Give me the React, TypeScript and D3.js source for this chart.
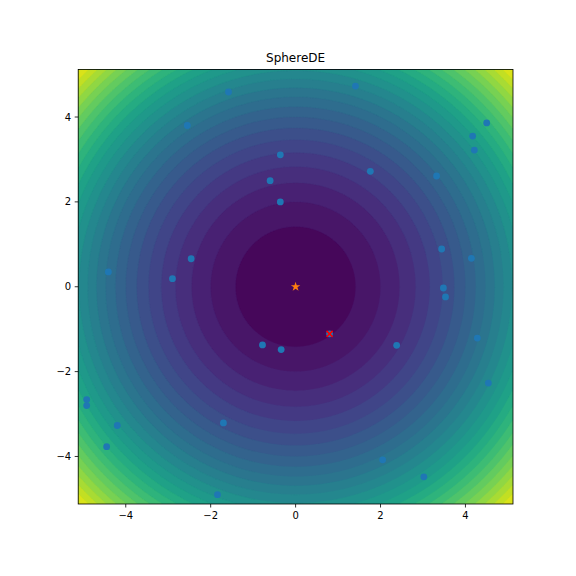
import React from 'react';
import * as d3 from 'd3';

// ---- data ----
const domainLo = -5.12;
const domainHi = 5.12;
const xTicks = [-4, -2, 0, 2, 4];
const yTicks = [-4, -2, 0, 2, 4];
const levelStep = 2;
const levelMax = 54;

const popX = [-2.55, -1.58, 1.41, -0.36, -0.60, -0.36, 1.76, 3.32, 4.50, 4.17, 4.21, 3.44, 4.14, 3.48, 3.53, 4.28, 4.54, -4.41, -2.46, -2.90, -0.78, -0.34, 0.80, 2.38, -1.70, -4.20, -4.45, -4.92, -4.92, -1.84, 2.05, 3.02];
const popY = [3.80, 4.59, 4.73, 3.11, 2.50, 2.00, 2.72, 2.61, 3.86, 3.55, 3.22, 0.89, 0.67, -0.03, -0.24, -1.21, -2.27, 0.35, 0.66, 0.19, -1.37, -1.48, -1.11, -1.38, -3.21, -3.27, -3.77, -2.66, -2.80, -4.90, -4.08, -4.48];
const bestX = [0.80];
const bestY = [-1.11];
const optX = [0];
const optY = [0];
const title = 'SphereDE';

const W = 576, H = 576;
const left = 78.2, right = 513.0, top = 69.5, bottom = 504.0;

export default function App() {
  const xs = d3.scaleLinear().domain([domainLo, domainHi]).range([left, right]);
  const ys = d3.scaleLinear().domain([domainLo, domainHi]).range([bottom, top]);

  const n = 300;
  const d = (domainHi - domainLo) / n;
  const values = new Array(n * n);
  for (let j = 0; j < n; j++) {
    const y = domainLo + (j + 0.5) * d;
    for (let i = 0; i < n; i++) {
      const x = domainLo + (i + 0.5) * d;
      values[j * n + i] = x * x + y * y;
    }
  }
  const thresholds = d3.range(levelStep, levelMax, levelStep);
  const contours = d3.contours().size([n, n]).thresholds(thresholds)(values);
  const proj = d3.geoTransform({
    point(px: number, py: number) {
      (this as any).stream.point(xs(domainLo + px * d), ys(domainLo + py * d));
    },
  });
  const path = d3.geoPath(proj);
  const color = (lo: number) => d3.interpolateViridis((lo + levelStep / 2) / levelMax);

  const star = d3.symbol(d3.symbolStar, 28)() as string;
  const font = 'DejaVu Sans, sans-serif';

  return (
    <svg width={W} height={H} style={{ position: 'absolute', left: 0, top: 0, background: '#fff' }}>
      <defs>
        <clipPath id="ax">
          <rect x={left} y={top} width={right - left} height={bottom - top} />
        </clipPath>
      </defs>
      <g clipPath="url(#ax)">
        <rect x={left} y={top} width={right - left} height={bottom - top} fill={color(0)} />
        {contours.map((c, k) => (
          <path key={k} d={path(c as any) || ''} fill={color(c.value)} stroke={color(c.value)} strokeWidth={0.3} />
        ))}
        {popX.map((x, i) => (
          <circle key={i} cx={xs(x)} cy={ys(popY[i])} r={3.4} fill="#1f77b4" />
        ))}
        {bestX.map((x, i) => (
          <g key={'b' + i} transform={`translate(${xs(x)},${ys(bestY[i])})`}>
            <line x1={-3} y1={-3} x2={3} y2={3} stroke="#ff0000" strokeWidth={1.5} />
            <line x1={-3} y1={3} x2={3} y2={-3} stroke="#ff0000" strokeWidth={1.5} />
          </g>
        ))}
        {optX.map((x, i) => (
          <path key={'o' + i} d={star} transform={`translate(${xs(x)},${ys(optY[i])})`} fill="#ff7f0e" />
        ))}
      </g>
      <rect x={left} y={top} width={right - left} height={bottom - top} fill="none" stroke="#000" strokeWidth={0.8} />
      {xTicks.map((t) => (
        <g key={'x' + t}>
          <line x1={xs(t)} x2={xs(t)} y1={bottom} y2={bottom + 3.5} stroke="#000" strokeWidth={0.8} />
          <text x={xs(t)} y={bottom + 15} textAnchor="middle" fontSize={10} fontFamily={font} fill="#000">
            {t < 0 ? '\u2212' + Math.abs(t) : String(t)}
          </text>
        </g>
      ))}
      {yTicks.map((t) => (
        <g key={'y' + t}>
          <line x1={left - 3.5} x2={left} y1={ys(t)} y2={ys(t)} stroke="#000" strokeWidth={0.8} />
          <text x={left - 7} y={ys(t) + 3.6} textAnchor="end" fontSize={10} fontFamily={font} fill="#000">
            {t < 0 ? '\u2212' + Math.abs(t) : String(t)}
          </text>
        </g>
      ))}
      <text x={(left + right) / 2} y={top - 8} textAnchor="middle" fontSize={12} fontFamily={font} fill="#000">
        {title}
      </text>
    </svg>
  );
}
